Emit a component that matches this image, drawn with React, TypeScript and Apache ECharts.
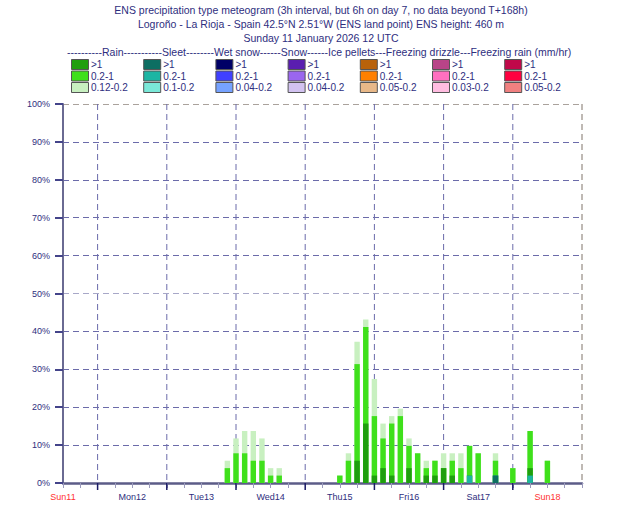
import React, { useEffect, useRef } from 'react';
import * as echarts from 'echarts';

const titleLines = [
  'ENS precipitation type meteogram (3h interval, but 6h on day 7, no data beyond T+168h)',
  'Logroño - La Rioja - Spain 42.5°N 2.51°W (ENS land point) ENS height: 460 m',
  'Sunday 11 January 2026 12 UTC',
];
const legendHeader =
  '----------Rain-----------Sleet--------Wet snow------Snow------Ice pellets---Freezing drizzle---Freezing rain (mm/hr)';

const legendTypes = ['Rain', 'Sleet', 'Wet snow', 'Snow', 'Ice pellets', 'Freezing drizzle', 'Freezing rain'];
const legendLabels = [
  ['>1', '0.2-1', '0.12-0.2'],
  ['>1', '0.2-1', '0.1-0.2'],
  ['>1', '0.2-1', '0.04-0.2'],
  ['>1', '0.2-1', '0.04-0.2'],
  ['>1', '0.2-1', '0.05-0.2'],
  ['>1', '0.2-1', '0.03-0.2'],
  ['>1', '0.2-1', '0.05-0.2'],
];
const legendColors = [
  ['#1f9e0e', '#3fe01b', '#c8f0c0'],
  ['#0d6e62', '#1cb5a3', '#7ae8d8'],
  ['#000066', '#4040ff', '#76a2ff'],
  ['#5a1eb0', '#9a66ee', '#d2c2f0'],
  ['#b8620a', '#ff8000', '#e8b888'],
  ['#b84488', '#ff70c0', '#ffbce0'],
  ['#c0084a', '#ff0040', '#f08080'],
];

const dayLabels = ['Sun11', 'Mon12', 'Tue13', 'Wed14', 'Thu15', 'Fri16', 'Sat17', 'Sun18'];
const weekendDays = ['Sun11', 'Sun18'];
const midnightHours = [12, 36, 60, 84, 108, 132, 156, 180];

// forecast step (hours after base time)
const hours = [57, 60, 63, 66, 69, 72, 75, 96, 99, 102, 105, 108, 111, 114, 117, 120, 123, 126, 129, 132, 135, 138, 141, 144, 150, 156, 162, 168];
// probabilities (%) of each class (stacked bottom to top in this order)
const sleetHeavy = [0, 0, 0, 0, 0, 0, 0, 0, 0, 0, 0, 0, 0, 0, 0, 0, 0, 0, 0, 0, 0, 0, 0, 0, 1.96, 0, 0, 0];
const sleetModerate = [0, 0, 0, 0, 0, 0, 0, 0, 0, 0, 0, 0, 0, 0, 0, 0, 0, 0, 0, 0, 0, 0, 1.96, 0, 0, 0, 1.96, 0];
const rainHeavy = [0, 0, 0, 0, 0, 0, 0, 0, 0, 5.88, 15.69, 1.96, 3.92, 1.96, 0, 3.92, 0, 1.96, 1.96, 3.92, 1.96, 0, 0, 0, 0, 0, 1.96, 0];
const rainModerate = [3.92, 7.84, 7.84, 5.88, 5.88, 1.96, 1.96, 1.96, 5.88, 25.49, 25.49, 15.69, 7.84, 13.73, 17.65, 5.88, 7.84, 1.96, 3.92, 0, 3.92, 3.92, 7.84, 7.84, 3.92, 3.92, 9.8, 5.88];
const rainLight = [1.96, 3.92, 5.88, 7.84, 5.88, 1.96, 1.96, 0, 1.96, 5.88, 1.96, 9.8, 3.92, 1.96, 1.96, 1.96, 0, 1.96, 0, 3.92, 1.96, 3.92, 0, 0, 1.96, 0, 0, 0];

const NAVY = '#2e2e7e';
const FONT = '"Liberation Sans", Arial, sans-serif';

export default function App() {
  const ref = useRef<HTMLDivElement>(null);

  useEffect(() => {
    if (!ref.current) return;
    const chart = echarts.init(ref.current, null, { renderer: 'svg' });

    const graphics: any[] = [];
    titleLines.forEach((t, i) => {
      graphics.push({
        type: 'text',
        x: 321,
        y: 10 + i * 14,
        style: { text: t, fill: NAVY, font: `10.5px ${FONT}`, textAlign: 'center', textVerticalAlign: 'middle' },
      });
    });
    graphics.push({
      type: 'text',
      x: 67,
      y: 52,
      style: { text: legendHeader, fill: NAVY, font: `10.5px ${FONT}`, textAlign: 'left', textVerticalAlign: 'middle' },
    });
    legendTypes.forEach((_, c) => {
      legendLabels[c].forEach((lab, r) => {
        const x = 71.5 + c * 72.2;
        const y = 59.5 + r * 11.5;
        graphics.push({
          type: 'rect',
          shape: { x, y, width: 17, height: 10 },
          style: { fill: legendColors[c][r], stroke: '#555555', lineWidth: 1 },
        });
        graphics.push({
          type: 'text',
          x: x + 19.5,
          y: y + 5,
          style: { text: lab, fill: NAVY, font: `10px ${FONT}`, textVerticalAlign: 'middle' },
        });
      });
    });

    // cumulative tops of the stacked classes
    const classes = [
      { name: 'Sleet >1', data: sleetHeavy, color: legendColors[1][0] },
      { name: 'Sleet 0.2-1', data: sleetModerate, color: legendColors[1][1] },
      { name: 'Rain >1', data: rainHeavy, color: legendColors[0][0] },
      { name: 'Rain 0.2-1', data: rainModerate, color: legendColors[0][1] },
      { name: 'Rain 0.12-0.2', data: rainLight, color: legendColors[0][2] },
    ];
    const running = hours.map(() => 0);
    const cumSeries = classes.map((c) => {
      const tops = hours.map((_, i) => {
        running[i] += c.data[i];
        return running[i];
      });
      return { ...c, tops };
    });
    const barSeries = cumSeries
      .slice()
      .reverse()
      .map((s) => ({
        name: s.name,
        type: 'bar',
        barWidth: 5.4,
        barGap: '-100%',
        z: 5,
        itemStyle: { color: s.color },
        data: hours.map((h, i) => [h, s.tops[i]]),
      }));

    const hGridColors = ['#6b6baa', '#6b6baa', '#6b6baa', '#6b6baa', '#6b6baa', '#a8a8c8', '#6b6baa', '#6b6baa', '#6b6baa', '#6b6baa', '#aaa29c'];

    chart.setOption({
      animation: false,
      backgroundColor: '#ffffff',
      textStyle: { fontFamily: FONT },
      graphic: graphics,
      grid: { left: 63, right: 48, top: 104, bottom: 42 },
      xAxis: {
        type: 'value',
        min: 0,
        max: 180,
        interval: 6,
        axisLine: { show: true, lineStyle: { color: '#5c5c88', width: 2.5 } },
        axisTick: { show: true, length: 5, lineStyle: { color: '#9a9abc', width: 1 } },
        splitLine: { show: false },
        axisLabel: {
          margin: 9,
          fontSize: 9,
          showMaxLabel: true,
          showMinLabel: true,
          formatter: (v: number) => {
            if (v % 24 !== 0) return '';
            const d = dayLabels[v / 24];
            if (!d) return '';
            return weekendDays.includes(d) ? `{r|${d}}` : `{n|${d}}`;
          },
          rich: {
            r: { color: '#ff3030', fontSize: 9, fontFamily: FONT },
            n: { color: NAVY, fontSize: 9, fontFamily: FONT },
          },
        },
      },
      yAxis: {
        type: 'value',
        min: 0,
        max: 100,
        interval: 10,
        axisLine: { show: true, lineStyle: { color: '#6a6a92', width: 2 } },
        axisTick: { show: true, length: 8, lineStyle: { color: '#44448a', width: 2 } },
        axisLabel: { formatter: '{value}%', fontSize: 9, color: NAVY, margin: 13 },
        splitLine: { show: true, lineStyle: { color: hGridColors, type: [6, 4], width: 1 } },
      },
      series: [
        {
          type: 'custom',
          z: 1,
          clip: false,
          silent: true,
          encode: { x: 0, y: 1 },
          data: midnightHours.map((h) => [h, 0]),
          renderItem: (params: any, api: any) => {
            const h = api.value(0);
            const top = api.coord([h, 100]);
            const bot = api.coord([h, 0]);
            const last = h === 180;
            const children: any[] = [
              {
                type: 'line',
                shape: { x1: top[0], y1: top[1], x2: bot[0], y2: bot[1] },
                style: { stroke: last ? '#aaa29c' : '#6b6baa', lineDash: [6, 4], lineWidth: last ? 1.5 : 1 },
              },
            ];
            if (!last) {
              children.push({
                type: 'line',
                shape: { x1: bot[0], y1: bot[1], x2: bot[0], y2: bot[1] + 7 },
                style: { stroke: '#1a1a66', lineWidth: 1.5 },
              });
            }
            return { type: 'group', children };
          },
        },
        ...barSeries,
      ],
    });

    return () => chart.dispose();
  }, []);

  return (
    <div
      ref={ref}
      style={{ position: 'fixed', left: 0, top: 0, width: 630, height: 525, background: '#fff' }}
    />
  );
}
